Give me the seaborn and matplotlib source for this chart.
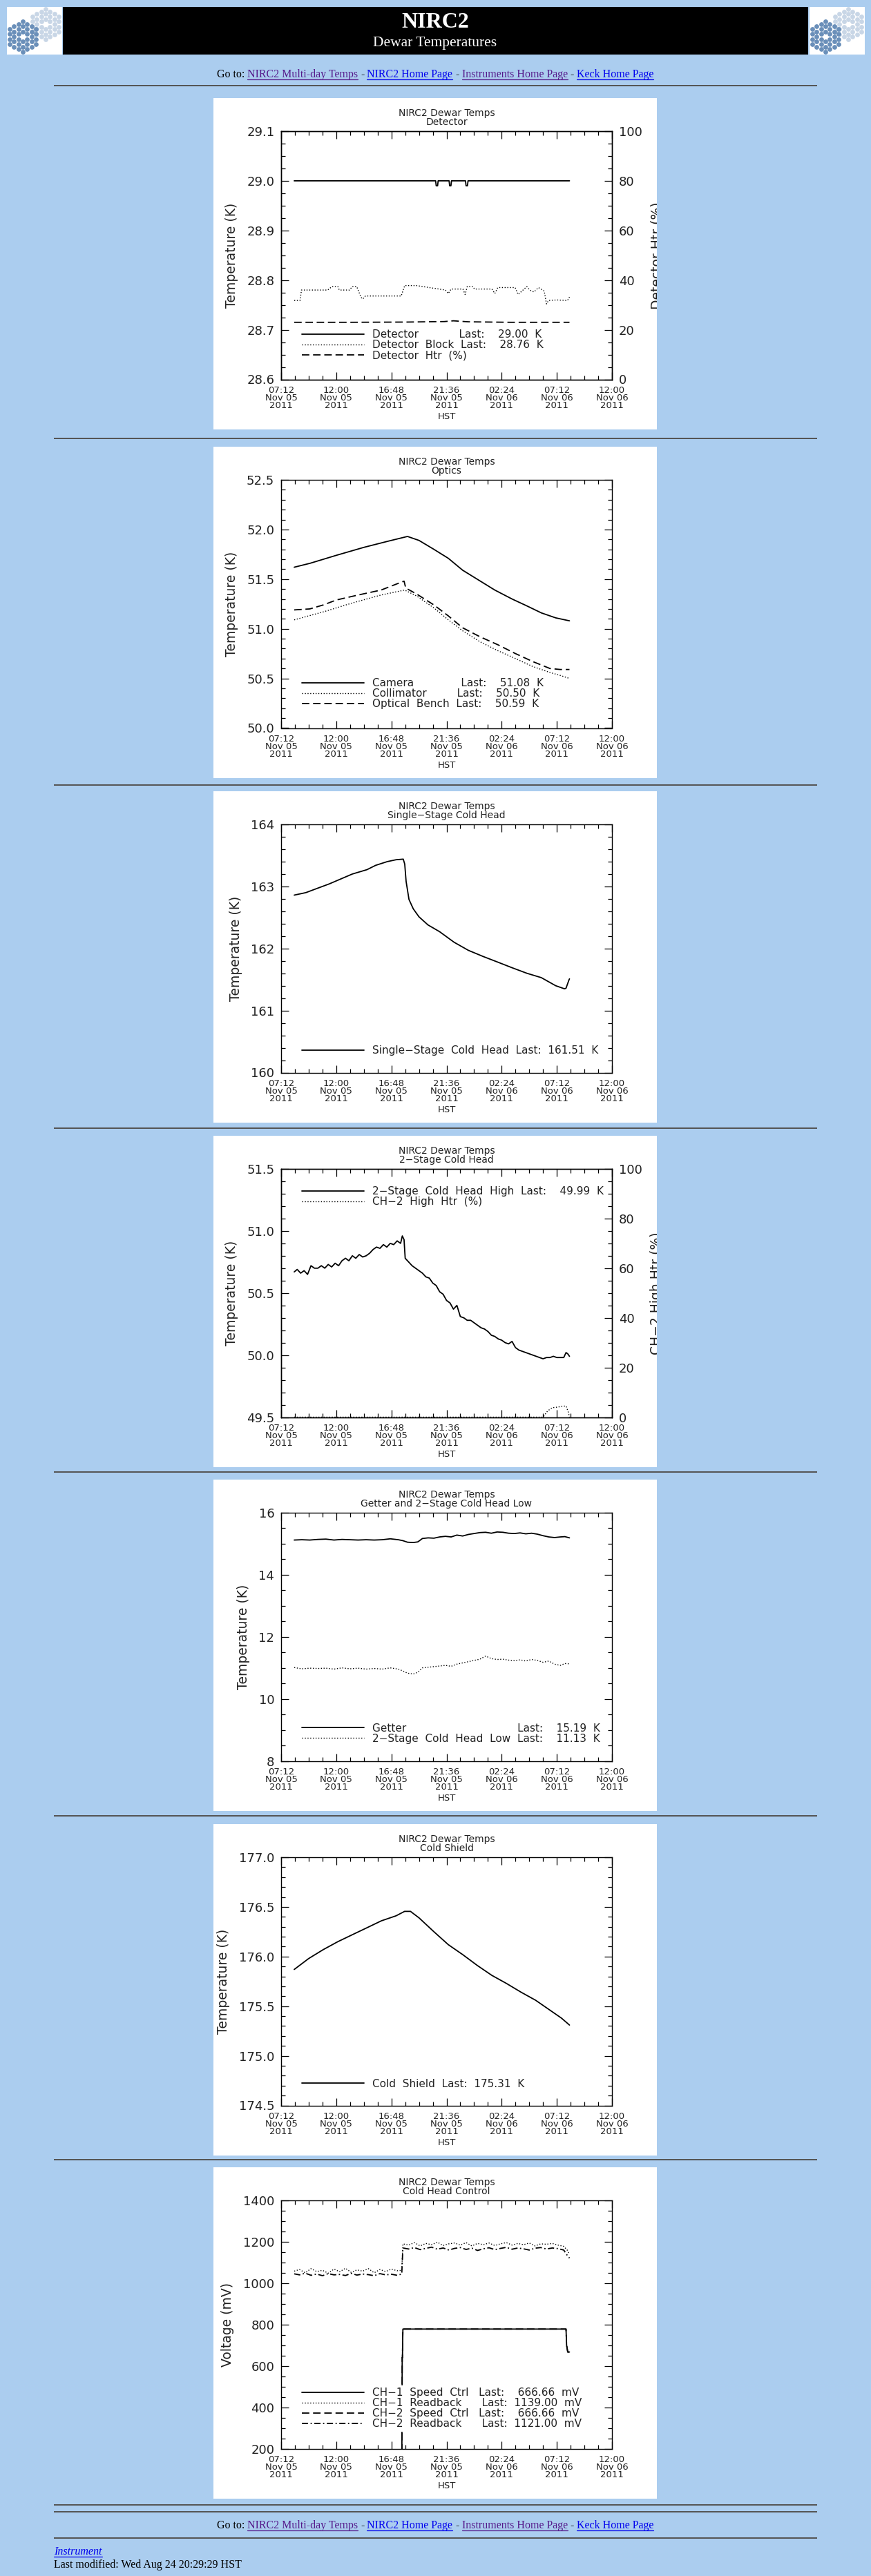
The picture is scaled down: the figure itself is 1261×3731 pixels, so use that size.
import matplotlib
matplotlib.use('Agg')
import matplotlib.pyplot as plt
import seaborn as sns
from matplotlib.patches import Rectangle
from matplotlib.lines import Line2D
from matplotlib.ticker import FixedLocator, MultipleLocator, FormatStrFormatter

sns.set_theme(style='ticks')
plt.rcParams['font.family'] = ['DejaVu Sans']
plt.rcParams['axes.linewidth'] = 1.0
plt.rcParams['axes.edgecolor'] = 'black'

W, H = 1261, 3731
BG = '#abcdef'
INK = '#222222'
LINK = '#0000ee'
VISITED = '#551a8b'

# time axis: hours after 07:12 HST Nov 05 2011
tick_hours = [0, 4.8, 9.6, 14.4, 19.2, 24.0, 28.8]
tick_labels = ['07:12\nNov 05\n2011', '12:00\nNov 05\n2011', '16:48\nNov 05\n2011',
               '21:36\nNov 05\n2011', '02:24\nNov 06\n2011', '07:12\nNov 06\n2011',
               '12:00\nNov 06\n2011']

# --- Detector
det_hours = [1.14, 13.45, 13.5, 13.62, 13.67, 14.62, 14.67, 14.78, 14.83,
             16.05, 16.1, 16.22, 16.27, 25.1]
det_temp = [29.00, 29.00, 28.99, 28.99, 29.00, 29.00, 28.99, 28.99, 29.00,
            29.00, 28.99, 28.99, 29.00, 29.00]
blk_hours = [1.14, 1.65, 1.77, 4.05, 4.43, 4.94, 5.06, 5.95, 6.2, 6.58, 6.96, 7.1,
             7.34, 10.45, 10.76, 11.77, 14.3, 14.55, 14.8, 15.82, 16.02, 16.2, 16.7,
             16.83, 18.35, 18.6, 18.86, 20.37, 20.63, 21.39, 21.64, 22.0, 22.4, 22.9,
             23.1, 23.28, 24.0, 24.93, 25.1]
blk_temp = [28.759, 28.759, 28.780, 28.780, 28.787, 28.787, 28.780, 28.780, 28.787,
            28.787, 28.765, 28.762, 28.768, 28.768, 28.789, 28.789, 28.780, 28.773,
            28.782, 28.782, 28.771, 28.787, 28.787, 28.782, 28.782, 28.773, 28.785,
            28.785, 28.771, 28.787, 28.780, 28.776, 28.785, 28.778, 28.752, 28.759,
            28.760, 28.759, 28.766]
htr_hours = [1.14, 6.0, 11.0, 14.2, 15.0, 16.3, 20.0, 25.1]
htr_pct = [23.0, 23.0, 23.1, 23.3, 23.6, 23.2, 23.0, 23.0]

# --- Optics
cam_hours = [1.14, 2.53, 4.81, 7.2, 9.24, 11.0, 12.0, 13.3, 14.55, 15.8, 17.2, 18.6,
             20.1, 21.4, 22.65, 23.9, 25.1]
cam_temp = [51.62, 51.66, 51.74, 51.82, 51.88, 51.93, 51.89, 51.80, 51.71, 51.59,
            51.49, 51.39, 51.30, 51.23, 51.16, 51.11, 51.08]
col_hours = [1.14, 3.67, 6.2, 8.7, 10.75, 11.8, 13.3, 14.55, 15.8, 17.3, 18.85, 20.4,
             21.9, 23.4, 24.3, 25.1]
col_temp = [51.09, 51.17, 51.26, 51.34, 51.39, 51.33, 51.21, 51.09, 50.98, 50.87,
            50.78, 50.70, 50.62, 50.56, 50.53, 50.50]
ben_hours = [1.14, 2.5, 3.67, 4.81, 6.7, 8.7, 10.25, 10.7, 10.85, 11.8, 13.3, 14.55,
             15.8, 17.3, 18.85, 20.4, 21.9, 23.4, 24.3, 25.1]
ben_temp = [51.19, 51.20, 51.24, 51.29, 51.34, 51.39, 51.46, 51.48, 51.41, 51.35,
            51.24, 51.13, 51.01, 50.92, 50.84, 50.75, 50.67, 50.60, 50.59, 50.59]

# --- Single-stage cold head
ss_hours = [1.14, 2.15, 3.16, 4.18, 5.19, 6.2, 7.47, 8.23, 9.24, 10.0, 10.63, 10.76,
            10.88, 11.13, 11.5, 12.0, 12.78, 13.8, 15.06, 16.3, 17.6, 18.86, 20.1,
            21.4, 22.65, 23.9, 24.67, 24.8, 25.05, 25.1]
ss_temp = [162.86, 162.90, 162.97, 163.04, 163.12, 163.20, 163.27, 163.34, 163.40,
           163.43, 163.44, 163.36, 163.08, 162.79, 162.64, 162.51, 162.38, 162.27,
           162.10, 161.97, 161.87, 161.78, 161.69, 161.60, 161.53, 161.40, 161.35,
           161.36, 161.49, 161.51]

# --- 2-stage cold head
ch2_hours = [1.14, 1.4, 1.7, 2.0, 2.3, 2.6, 2.9, 3.2, 3.5, 3.8, 4.1, 4.4, 4.7, 5.0,
             5.3, 5.6, 5.9, 6.2, 6.5, 6.8, 7.1, 7.4, 7.7, 8.0, 8.3, 8.6, 8.9, 9.2,
             9.5, 9.8, 10.1, 10.4, 10.55, 10.7, 10.8, 11.1, 11.4, 11.7, 12.0, 12.3,
             12.6, 12.9, 13.2, 13.5, 13.8, 14.1, 14.4, 14.7, 15.0, 15.3, 15.6, 15.9,
             16.2, 16.5, 16.8, 17.1, 17.4, 17.7, 18.0, 18.3, 18.6, 18.9, 19.2, 19.5,
             19.8, 20.1, 20.4, 20.7, 21.0, 21.3, 21.6, 21.9, 22.2, 22.5, 22.8, 23.1,
             23.4, 23.7, 24.0, 24.3, 24.6, 24.8, 24.95, 25.1]
ch2_temp = [50.67, 50.69, 50.66, 50.68, 50.65, 50.72, 50.70, 50.70, 50.72, 50.70,
            50.73, 50.71, 50.74, 50.72, 50.76, 50.78, 50.76, 50.80, 50.78, 50.81,
            50.79, 50.80, 50.82, 50.85, 50.87, 50.86, 50.89, 50.87, 50.90, 50.89,
            50.92, 50.90, 50.96, 50.93, 50.78, 50.75, 50.72, 50.70, 50.68, 50.66,
            50.63, 50.62, 50.58, 50.56, 50.51, 50.49, 50.44, 50.42, 50.37, 50.40,
            50.31, 50.30, 50.28, 50.28, 50.26, 50.24, 50.22, 50.21, 50.19, 50.16,
            50.15, 50.13, 50.12, 50.10, 50.09, 50.11, 50.06, 50.04, 50.03, 50.02,
            50.01, 50.00, 49.99, 49.98, 49.97, 49.98, 49.98, 49.99, 49.98, 49.98,
            49.98, 50.02, 50.01, 49.99]
ch2htr_hours = [1.14, 22.8, 23.2, 23.6, 24.0, 24.4, 24.8, 25.0, 25.1]
ch2htr_pct = [0.0, 0.0, 2.5, 3.8, 4.0, 4.3, 4.5, 2.0, 0.0]

# --- Getter / 2-stage low
gl_hours = [1.14, 1.8, 2.5, 3.2, 3.9, 4.6, 5.3, 6.0, 6.7, 7.4, 8.1, 8.8, 9.5, 10.2,
            10.6, 11.0, 11.5, 11.9, 12.3, 12.8, 13.3, 13.8, 14.3, 14.8, 15.3, 15.8,
            16.3, 16.8, 17.3, 17.8, 18.3, 18.8, 19.3, 19.8, 20.3, 20.8, 21.3, 21.8,
            22.3, 22.8, 23.3, 23.8, 24.3, 24.7, 25.1]
getter_temp = [15.12, 15.13, 15.12, 15.14, 15.15, 15.12, 15.14, 15.13, 15.12, 15.13,
               15.12, 15.13, 15.16, 15.13, 15.10, 15.05, 15.04, 15.06, 15.17, 15.19,
               15.18, 15.22, 15.24, 15.22, 15.28, 15.25, 15.30, 15.33, 15.36, 15.37,
               15.34, 15.38, 15.37, 15.34, 15.33, 15.35, 15.32, 15.34, 15.31, 15.26,
               15.22, 15.20, 15.22, 15.23, 15.19]
low_temp = [11.01, 10.97, 10.99, 10.98, 10.99, 10.96, 11.00, 10.97, 10.99, 10.96,
            10.98, 10.96, 11.00, 10.96, 10.90, 10.83, 10.80, 10.86, 11.00, 11.02,
            11.04, 11.06, 11.08, 11.05, 11.12, 11.16, 11.20, 11.24, 11.28, 11.38,
            11.30, 11.27, 11.28, 11.25, 11.23, 11.26, 11.22, 11.27, 11.24, 11.18,
            11.22, 11.12, 11.08, 11.14, 11.13]

# --- Cold shield
cs_hours = [1.14, 2.4, 3.67, 4.94, 6.2, 7.47, 8.73, 10.0, 10.75, 11.26, 12.0, 13.3,
            14.55, 15.8, 17.08, 18.35, 19.6, 20.9, 22.15, 23.4, 24.4, 25.1]
cs_temp = [175.87, 175.98, 176.07, 176.15, 176.22, 176.29, 176.36, 176.41, 176.455,
           176.455, 176.39, 176.25, 176.12, 176.02, 175.91, 175.81, 175.73, 175.64,
           175.56, 175.46, 175.38, 175.31]

# --- Cold head control
spd_hours = [1.14, 10.5, 10.54, 10.56, 10.6, 24.8, 24.85, 24.95, 25.1]
ch1_speed = [0, 0, 640, 640, 778, 778, 700, 667, 667]
ch2_speed = [0, 0, 640, 640, 778, 778, 700, 667, 667]
rb_hours = [1.14, 1.6, 2.1, 2.6, 3.1, 3.6, 4.1, 4.6, 5.1, 5.6, 6.1, 6.6, 7.1, 7.6,
            8.1, 8.6, 9.1, 9.6, 10.1, 10.5, 10.6, 11.1, 11.6, 12.1, 12.6, 13.1, 13.6,
            14.1, 14.6, 15.1, 15.6, 16.1, 16.6, 17.1, 17.6, 18.1, 18.6, 19.1, 19.6,
            20.1, 20.6, 21.1, 21.6, 22.1, 22.6, 23.1, 23.6, 24.1, 24.6, 24.9, 25.1]
ch1_readback = [1058, 1066, 1050, 1070, 1056, 1062, 1048, 1068, 1055, 1072, 1052,
                1064, 1058, 1070, 1050, 1066, 1056, 1068, 1060, 1062,
                1190, 1184, 1196, 1180, 1192, 1186, 1198, 1182, 1190, 1194, 1184,
                1196, 1180, 1192, 1186, 1194, 1182, 1190, 1196, 1184, 1192, 1186,
                1194, 1180, 1190, 1188, 1192, 1184, 1178, 1160, 1139]
ch2_readback = [1045, 1040, 1048, 1038, 1044, 1036, 1046, 1040, 1042, 1037, 1047,
                1039, 1044, 1041, 1036, 1046, 1040, 1043, 1038, 1044,
                1170, 1165, 1172, 1162, 1168, 1174, 1164, 1170, 1160, 1168, 1172,
                1163, 1169, 1158, 1166, 1171, 1162, 1168, 1173, 1164, 1170, 1166,
                1160, 1169, 1172, 1165, 1170, 1167, 1160, 1135, 1121]

# page layout (pixels)
panel_tops = [142, 647, 1146, 1645, 2143, 2642, 3139]
hr_ys = [124, 635, 1137, 1634, 2132, 2630, 3128, 3628, 3638, 3676]

SOLID = '-'
DOT = (0, (1, 1.8))
DASH = (0, (6, 3))
DASHDOT = (0, (5, 2, 1, 2))

fig = plt.figure(figsize=(W / 100, H / 100), dpi=100, facecolor=BG)


def fbox(x0, y0, x1, y1):
    return [x0 / W, 1 - y1 / H, (x1 - x0) / W, (y1 - y0) / H]


def fig_rect(x0, y0, x1, y1, color, z=-5):
    r = Rectangle((x0 / W, 1 - y1 / H), (x1 - x0) / W, (y1 - y0) / H,
                  transform=fig.transFigure, color=color, lw=0, zorder=z)
    fig.add_artist(r)
    return r


# ---------- header
fig_rect(91, 10, 1170, 79, 'black')
fig.text(630 / W, 1 - 32 / H, 'NIRC2', color='white', fontsize=23, fontweight='bold',
         family='Liberation Serif', ha='center', va='center')
fig.text(630 / W, 1 - 63 / H, 'Dewar Temperatures', color='white', fontsize=15.5,
         family='Liberation Serif', ha='center', va='center')


def draw_logo(x0):
    lax = fig.add_axes(fbox(x0, 10, x0 + 80, 79))
    lax.set_xlim(0, 80)
    lax.set_ylim(69, 0)
    lax.set_facecolor('white')
    lax.set_xticks([])
    lax.set_yticks([])
    for s in lax.spines.values():
        s.set_visible(False)
    for (cx, cy), col in [((56, 25), '#c8d6e6'), ((23, 43), '#6a8fb9')]:
        xs, ys = [], []
        for q in range(-3, 4):
            n = 7 - abs(q)
            for k in range(n):
                if q == 0 and k == 3:
                    continue
                xs.append(cx + q * 6.3)
                ys.append(cy + (k - (n - 1) / 2) * 7.3)
        lax.scatter(xs, ys, s=24, color=col, linewidths=0)


draw_logo(10)
draw_logo(1172)

renderer = fig.canvas.get_renderer()


def text_width(t):
    return t.get_window_extent(renderer).width


def goto_line(ybase):
    parts = [('Go to:', 'black', False), ('NIRC2 Multi-day Temps', VISITED, True),
             ('-', 'black', False), ('NIRC2 Home Page', LINK, True),
             ('-', 'black', False), ('Instruments Home Page', VISITED, True),
             ('-', 'black', False), ('Keck Home Page', LINK, True)]
    kw = dict(fontsize=11.5, family='Liberation Serif', va='baseline', ha='left')
    a = fig.text(0, 0, 'aa', **kw)
    b = fig.text(0, 0, 'a a', **kw)
    sp = text_width(b) - text_width(a)
    a.remove()
    b.remove()
    ts = [fig.text(0, 1 - ybase / H, s, color=c, **kw) for s, c, u in parts]
    ws = [text_width(t) for t in ts]
    x = 630 - (sum(ws) + sp * (len(ws) - 1)) / 2
    for t, w, (s, c, u) in zip(ts, ws, parts):
        t.set_x(x / W)
        if u:
            fig.add_artist(Line2D([x / W, (x + w) / W], [1 - (ybase + 2.5) / H] * 2,
                                  color=c, lw=0.9))
        x += w + sp


goto_line(112)
goto_line(3662)

for y in hr_ys:
    fig_rect(78, y - 1, 1183, y + 1.2, '#555555')

# footer
t = fig.text(78 / W, 1 - 3700 / H, 'Instrument', color=LINK, fontsize=11.5,
             family='Liberation Serif', style='italic', va='baseline')
fig.add_artist(Line2D([78 / W, (78 + text_width(t)) / W], [1 - 3702.5 / H] * 2,
                      color=LINK, lw=0.9))
fig.text(78 / W, 1 - 3719 / H, 'Last modified: Wed Aug 24 20:29:29 HST', color='black',
         fontsize=11.5, family='Liberation Serif', va='baseline')


# ---------- plot panels
def make_panel(i, title, ylabel, ylim, major, minor, fmt, twin=False):
    top = panel_tops[i]
    white = fig_rect(309, top, 951, top + 480, 'white')
    ax = fig.add_axes(fbox(407, top + 48, 886, top + 407.5))
    ax.set_facecolor('white')
    ax.set_xlim(0, 28.8)
    ax.set_ylim(*ylim)
    ax.xaxis.set_major_locator(FixedLocator(tick_hours))
    ax.set_xticklabels(tick_labels)
    ax.xaxis.set_minor_locator(MultipleLocator(1.2))
    ax.yaxis.set_major_locator(MultipleLocator(major))
    ax.yaxis.set_minor_locator(MultipleLocator(minor))
    ax.yaxis.set_major_formatter(FormatStrFormatter(fmt))
    ax.tick_params(axis='both', which='both', direction='in', top=True, right=not twin,
                   color='black', width=0.9)
    ax.tick_params(which='major', length=8)
    ax.tick_params(which='minor', length=4)
    ax.tick_params(axis='x', labelsize=9.5, pad=7, labelcolor=INK)
    ax.tick_params(axis='y', labelsize=13, pad=7, labelcolor=INK)
    for lbl in ax.get_xticklabels():
        lbl.set_linespacing(0.8)
    ax.set_title(title, fontsize=10, color=INK, pad=6.5, linespacing=0.88)
    ax.set_xlabel('HST', fontsize=9.5, color=INK, labelpad=2)
    ax.set_ylabel(ylabel, fontsize=13.5, color=INK, labelpad=9)
    for s in ax.spines.values():
        s.set_color('black')
        s.set_linewidth(1.0)
    return ax, white


def make_twin(ax, white, ylabel):
    ax2 = ax.twinx()
    ax2.set_ylim(0, 100)
    ax2.yaxis.set_major_locator(MultipleLocator(20))
    ax2.yaxis.set_minor_locator(MultipleLocator(5))
    ax2.tick_params(axis='y', which='both', direction='in', color='black', width=0.9,
                    labelsize=13, pad=7, labelcolor=INK)
    ax2.tick_params(which='major', length=8)
    ax2.tick_params(which='minor', length=4)
    ax2.set_ylabel(ylabel, fontsize=13.5, color=INK, labelpad=8.5)
    ax2.yaxis.label.set_clip_path(white)
    return ax2


def line(ax, x, y, style, label):
    lw = 1.0 if style == DOT else 1.3
    sns.lineplot(x=x, y=y, ax=ax, color='black', linestyle=style, linewidth=lw,
                 estimator=None, sort=False, legend=False, label=label)


def add_legend(ax, lines, yfrac):
    leg = ax.legend(lines, [l.get_label() for l in lines], loc='center left',
                    bbox_to_anchor=(0.056, yfrac), frameon=True, fancybox=False,
                    edgecolor='white', facecolor='white', framealpha=1, fontsize=11,
                    handlelength=5.9, handletextpad=0.8, labelspacing=0.0,
                    borderpad=0.2, borderaxespad=0)
    for t in leg.get_texts():
        t.set_color(INK)
    leg.set_zorder(10)


# 1. Detector
ax, white = make_panel(0, 'NIRC2 Dewar Temps\nDetector', 'Temperature (K)',
                       (28.6, 29.1), 0.1, 0.025, '%.1f', twin=True)
ax2 = make_twin(ax, white, 'Detector Htr (%)')
line(ax, det_hours, det_temp, SOLID, 'Detector' + ' ' * 12 + 'Last:    29.00  K')
line(ax, blk_hours, blk_temp, DOT, 'Detector  Block  Last:    28.76  K')
line(ax2, htr_hours, htr_pct, DASH, 'Detector  Htr  (%)')
add_legend(ax2, ax.get_lines() + ax2.get_lines(), 0.139)

# 2. Optics
ax, white = make_panel(1, 'NIRC2 Dewar Temps\nOptics', 'Temperature (K)',
                       (50.0, 52.5), 0.5, 0.1, '%.1f')
line(ax, cam_hours, cam_temp, SOLID, 'Camera' + ' ' * 14 + 'Last:    51.08  K')
line(ax, col_hours, col_temp, DOT, 'Collimator' + ' ' * 9 + 'Last:    50.50  K')
line(ax, ben_hours, ben_temp, DASH, 'Optical  Bench  Last:    50.59  K')
add_legend(ax, ax.get_lines(), 0.138)

# 3. Single-stage cold head
ax, white = make_panel(2, 'NIRC2 Dewar Temps\nSingle\u2212Stage Cold Head', 'Temperature (K)',
                       (160, 164), 1, 0.2, '%d')
line(ax, ss_hours, ss_temp, SOLID, 'Single\u2212Stage  Cold  Head  Last:  161.51  K')
add_legend(ax, ax.get_lines(), 0.089)

# 4. 2-stage cold head
ax, white = make_panel(3, 'NIRC2 Dewar Temps\n2\u2212Stage Cold Head', 'Temperature (K)',
                       (49.5, 51.5), 0.5, 0.1, '%.1f', twin=True)
ax2 = make_twin(ax, white, 'CH\u22122 High Htr (%)')
line(ax, ch2_hours, ch2_temp, SOLID, '2\u2212Stage  Cold  Head  High  Last:    49.99  K')
line(ax2, ch2htr_hours, ch2htr_pct, DOT, 'CH\u22122  High  Htr  (%)')
add_legend(ax2, ax.get_lines() + ax2.get_lines(), 0.889)

# 5. Getter and 2-stage low
ax, white = make_panel(4, 'NIRC2 Dewar Temps\nGetter and 2\u2212Stage Cold Head Low',
                       'Temperature (K)', (8, 16), 2, 0.5, '%d')
line(ax, gl_hours, getter_temp, SOLID, 'Getter' + ' ' * 33 + 'Last:    15.19  K')
line(ax, gl_hours, low_temp, DOT, '2\u2212Stage  Cold  Head  Low  Last:    11.13  K')
add_legend(ax, ax.get_lines(), 0.111)

# 6. Cold shield
ax, white = make_panel(5, 'NIRC2 Dewar Temps\nCold Shield', 'Temperature (K)',
                       (174.5, 177.0), 0.5, 0.1, '%.1f')
line(ax, cs_hours, cs_temp, SOLID, 'Cold  Shield  Last:  175.31  K')
add_legend(ax, ax.get_lines(), 0.087)

# 7. Cold head control
ax, white = make_panel(6, 'NIRC2 Dewar Temps\nCold Head Control', 'Voltage (mV)',
                       (200, 1400), 200, 50, '%d')
line(ax, spd_hours, ch1_speed, SOLID, 'CH\u22121  Speed  Ctrl   Last:    666.66  mV')
line(ax, rb_hours, ch1_readback, DOT, 'CH\u22121  Readback      Last:  1139.00  mV')
line(ax, spd_hours, ch2_speed, DASH, 'CH\u22122  Speed  Ctrl   Last:    666.66  mV')
line(ax, rb_hours, ch2_readback, DASHDOT, 'CH\u22122  Readback      Last:  1121.00  mV')
add_legend(ax, ax.get_lines(), 0.162)

fig.savefig('out.png', dpi=100, facecolor=BG)
